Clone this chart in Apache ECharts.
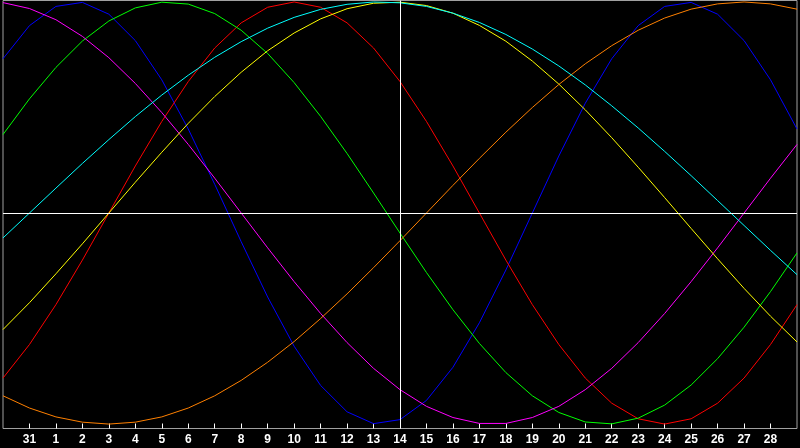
<!DOCTYPE html>
<html>
<head>
<meta charset="utf-8">
<script src="https://cdn.jsdelivr.net/npm/echarts@6/dist/echarts.min.js"></script>
<style>
html,body{margin:0;padding:0;background:#000;}
#chart{width:800px;height:448px;}
</style>
</head>
<body>
<div id="chart"></div>
<script>
// Day labels along the x axis (first and last positions are unlabeled edge days)
const days = ['', '31', '1', '2', '3', '4', '5', '6', '7', '8', '9', '10', '11', '12', '13', '14',
  '15', '16', '17', '18', '19', '20', '21', '22', '23', '24', '25', '26', '27', '28', ''];
const todayLabel = '14';

// Biorhythm curves, one value per day (-1 .. 1)
const physical = [0.731, 0.888, 0.979, 0.998, 0.942, 0.817, 0.631, 0.398, 0.136, -0.136, -0.398,
  -0.631, -0.817, -0.942, -0.998, -0.979, -0.888, -0.731, -0.520, -0.270, 0, 0.270, 0.520, 0.731,
  0.888, 0.979, 0.998, 0.942, 0.817, 0.631, 0.398];
const emotional = [-0.782, -0.623, -0.434, -0.223, 0, 0.223, 0.434, 0.623, 0.782, 0.901, 0.975, 1,
  0.975, 0.901, 0.782, 0.623, 0.434, 0.223, 0, -0.223, -0.434, -0.623, -0.782, -0.901, -0.975, -1,
  -0.975, -0.901, -0.782, -0.623, -0.434];
const intellectual = [0.372, 0.541, 0.690, 0.815, 0.910, 0.972, 0.999, 0.990, 0.945, 0.866, 0.756,
  0.618, 0.458, 0.282, 0.095, -0.095, -0.282, -0.458, -0.618, -0.756, -0.866, -0.945, -0.990, -0.999,
  -0.972, -0.910, -0.815, -0.690, -0.541, -0.372, -0.189];
const intuitive = [0.997, 0.969, 0.916, 0.837, 0.736, 0.614, 0.476, 0.325, 0.165, 0, -0.165, -0.325,
  -0.476, -0.614, -0.736, -0.837, -0.916, -0.969, -0.997, -0.997, -0.969, -0.916, -0.837, -0.736,
  -0.614, -0.476, -0.325, -0.165, 0, 0.165, 0.325];
const aesthetic = [-0.552, -0.425, -0.288, -0.146, 0, 0.146, 0.288, 0.425, 0.552, 0.667, 0.769, 0.853,
  0.920, 0.968, 0.994, 0.999, 0.983, 0.947, 0.889, 0.814, 0.720, 0.611, 0.489, 0.357, 0.217, 0.073,
  -0.073, -0.217, -0.357, -0.489, -0.611];
const awareness = [-0.866, -0.924, -0.966, -0.991, -1, -0.991, -0.966, -0.924, -0.866, -0.793, -0.707,
  -0.609, -0.5, -0.383, -0.259, -0.131, 0, 0.131, 0.259, 0.383, 0.5, 0.609, 0.707, 0.793, 0.866,
  0.924, 0.966, 0.991, 1, 0.991, 0.966];
const spiritual = [-0.118, 0, 0.118, 0.235, 0.348, 0.457, 0.559, 0.653, 0.738, 0.812, 0.876, 0.927,
  0.965, 0.989, 1.000, 0.996, 0.979, 0.947, 0.903, 0.846, 0.777, 0.697, 0.607, 0.508, 0.403, 0.292,
  0.177, 0.059, -0.059, -0.177, -0.292];

const curves = [
  {name: 'Physical', data: physical, color: '#0000ff'},
  {name: 'Emotional', data: emotional, color: '#ff0000'},
  {name: 'Intellectual', data: intellectual, color: '#00ff00'},
  {name: 'Intuitive', data: intuitive, color: '#ff00ff'},
  {name: 'Aesthetic', data: aesthetic, color: '#ffff00'},
  {name: 'Awareness', data: awareness, color: '#ff8000'},
  {name: 'Spiritual', data: spiritual, color: '#00ffff'}
];

const chart = echarts.init(document.getElementById('chart'), null, {renderer: 'canvas'});

const series = curves.map(c => ({
  name: c.name,
  type: 'line',
  data: c.data,
  showSymbol: false,
  symbol: 'none',
  smooth: false,
  silent: true,
  lineStyle: {color: c.color, width: 1},
  itemStyle: {color: c.color},
  z: 2
}));

series.push({
  name: 'ref',
  type: 'line',
  data: [],
  silent: true,
  z: 5,
  markLine: {
    silent: true,
    symbol: ['none', 'none'],
    label: {show: false},
    lineStyle: {color: '#ffffff', width: 1, type: 'solid'},
    data: [{yAxis: 0}, {xAxis: todayLabel}]
  }
});

chart.setOption({
  animation: false,
  backgroundColor: '#000000',
  grid: {
    left: 0.5, right: 0.5, top: 0.5, bottom: 19.5,
    show: true,
    borderColor: '#a0a0a0',
    borderWidth: 1,
    backgroundColor: 'transparent'
  },
  xAxis: {
    type: 'category',
    data: days,
    boundaryGap: false,
    position: 'bottom',
    axisLine: {show: false, onZero: false},
    axisTick: {
      show: true,
      inside: true,
      length: 5,
      interval: (idx, val) => val !== '',
      lineStyle: {color: '#ffffff', width: 1}
    },
    axisLabel: {
      show: true,
      interval: 0,
      color: '#ffffff',
      fontFamily: 'Liberation Sans, Arial, sans-serif',
      fontWeight: 'bold',
      fontSize: 12,
      margin: 5
    },
    splitLine: {show: false}
  },
  yAxis: {
    type: 'value',
    min: -1.021,
    max: 1.007,
    show: false,
    splitLine: {show: false}
  },
  series: series
});
</script>
</body>
</html>
